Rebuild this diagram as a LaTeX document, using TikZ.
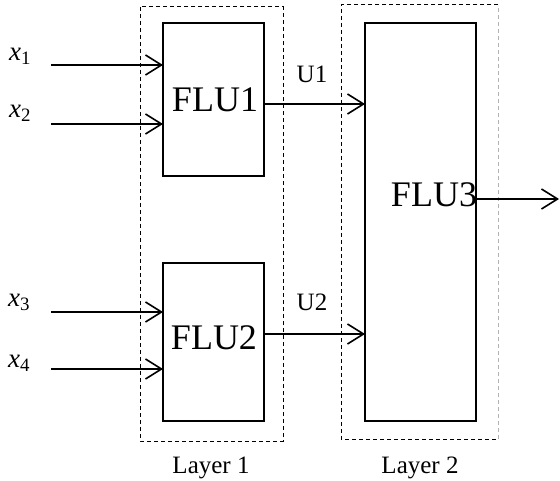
\documentclass[tikz,border=0pt]{standalone}
\usepackage{fontspec}
\setmainfont{Liberation Serif}
\usetikzlibrary{arrows.meta}
\tikzset{
  blk/.style={draw, line width=1.8pt, rectangle, outer sep=0pt, inner sep=0pt},
  layerbox/.style={rectangle, outer sep=0pt, inner sep=0pt},
  dashline/.style={line width=1pt, dash pattern=on 4pt off 3pt},
  sig/.style={line width=1.6pt, -{Straight Barb[length=16pt,width=20pt,line width=1.6pt]}},
  bigtxt/.style={inner sep=0pt, font=\fontsize{36}{40}\selectfont},
  lbl/.style={inner sep=0pt, font=\fontsize{25}{28}\selectfont},
  inlbl/.style={inner sep=0pt, font=\fontsize{27}{30}\selectfont}
}
\begin{document}
\begin{tikzpicture}[x=1pt,y=-1pt]
\useasboundingbox (0,0) rectangle (560,481);
% layer frames
\node[layerbox, minimum width=143pt, minimum height=434pt] (L1) at (211.5,224) {};
\node[layerbox, minimum width=157pt, minimum height=434pt] (L2) at (419.5,222) {};
\draw[dashline] (L1.north west) rectangle (L1.south east);
\draw[dashline] (L2.north east) -- (L2.north west) -- (L2.south west) -- (L2.south east);
\draw[dashline, gray!60] (L2.south east) -- (L2.north east);
% blocks
\node[blk, minimum width=101pt, minimum height=153pt] (F1) at (213.5,99.5) {};
\node[blk, minimum width=101pt, minimum height=158pt] (F2) at (213.5,342) {};
\node[blk, minimum width=111pt, minimum height=398pt] (F3) at (420.5,222) {};
\node[bigtxt] (T1) at (215,100) {FLU1};
\node[bigtxt] (T2) at (214,338) {FLU2};
\node[bigtxt] (T3) at (434,195) {FLU3};
% inputs
\node[inlbl] (x1) at (20,56) {$\mathit{x}_{\mathrm{1}}$};
\node[inlbl] (x2) at (20,113) {$\mathit{x}_{\mathrm{2}}$};
\node[inlbl] (x3) at (19,302) {$\mathit{x}_{\mathrm{3}}$};
\node[inlbl] (x4) at (19,363) {$\mathit{x}_{\mathrm{4}}$};
\coordinate (i1) at (51,65);
\coordinate (i2) at (51,124);
\coordinate (i3) at (51,312);
\coordinate (i4) at (51,369);
\draw[sig] (i1) -- (F1.west |- i1);
\draw[sig] (i2) -- (F1.west |- i2);
\draw[sig] (i3) -- (F2.west |- i3);
\draw[sig] (i4) -- (F2.west |- i4);
% inter-layer
\coordinate (u1) at (264,104);
\coordinate (u2) at (264,334);
\draw[sig] (F1.east |- u1) -- (F3.west |- u1);
\draw[sig] (F2.east |- u2) -- (F3.west |- u2);
\node[lbl] (U1) at (312,74) {U1};
\node[lbl] (U2) at (312,302) {U2};
% output
\coordinate (o) at (559,199);
\draw[sig] (F3.east |- o) -- (o);
% layer labels
\node[lbl, anchor=base] (LL1) at (211,473) {Layer 1};
\node[lbl, anchor=base] (LL2) at (420,473) {Layer 2};
\end{tikzpicture}
\end{document}
